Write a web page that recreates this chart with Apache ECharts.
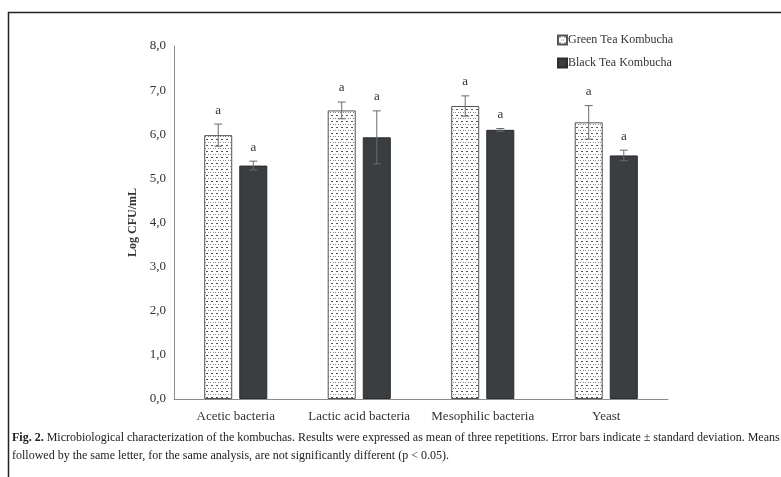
<!DOCTYPE html>
<html><head><meta charset="utf-8">
<script src="https://cdn.jsdelivr.net/npm/echarts@6/dist/echarts.min.js"></script>
<style>html,body{margin:0;padding:0;background:#fff}#c{width:781px;height:477px}</style>
</head><body><div id="c"></div>
<script>
const categories = ['Acetic bacteria', 'Lactic acid bacteria', 'Mesophilic bacteria', 'Yeast'];
const seriesNames = ['Green Tea Kombucha', 'Black Tea Kombucha'];
const greenMean = [5.98, 6.54, 6.64, 6.27];
const greenSD = [0.25, 0.19, 0.23, 0.38];
const blackMean = [5.29, 5.93, 6.10, 5.52];
const blackSD = [0.10, 0.60, 0.03, 0.12];
const greenLetters = ['a', 'a', 'a', 'a'];
const blackLetters = ['a', 'a', 'a', 'a'];
const yTicks = [0, 1, 2, 3, 4, 5, 6, 7, 8];

const serif = '"Liberation Serif", "DejaVu Serif", serif';

// dotted pattern for green bars
const pc = document.createElement('canvas');
pc.width = 5; pc.height = 6;
const px = pc.getContext('2d');
px.fillStyle = '#ffffff'; px.fillRect(0, 0, 5, 6);
px.fillStyle = '#555555';
px.fillRect(1, 1, 2, 1);
px.fillStyle = '#8a8a8a';
px.fillRect(3, 4, 1, 1);
px.fillRect(0, 4, 1, 1);
const dotPattern = { image: pc, repeat: 'repeat' };

const chart = echarts.init(document.getElementById('c'));

const BARW = 0.227, GAP = 0.057;
function errSeries(means, sds, letters, sign) {
  const data = means.map((m, i) => [i, m, sds[i], letters[i]]);
  return {
    type: 'custom', z: 5, silent: true,
    data: data,
    renderItem: function (params, api) {
      const i = api.value(0), m = api.value(1), sd = api.value(2);
      const band = api.size([1, 0])[0];
      const base = api.coord([i, m]);
      const x = base[0] + sign * band * (BARW + GAP) / 2;
      const top = api.coord([i, m + sd])[1];
      const bot = api.coord([i, m - sd])[1];
      const cap = 4;
      const st = { stroke: '#6b6b6b', lineWidth: 1 };
      return {
        type: 'group', children: [
          { type: 'line', shape: { x1: x, y1: top, x2: x, y2: bot }, style: st },
          { type: 'line', shape: { x1: x - cap, y1: top, x2: x + cap, y2: top }, style: st },
          { type: 'line', shape: { x1: x - cap, y1: bot, x2: x + cap, y2: bot }, style: st },
          { type: 'text', style: { x: x, y: top - 14, text: data[i][3], fill: '#333', font: '13px ' + serif, align: 'center', verticalAlign: 'middle' } }
        ]
      };
    }
  };
}

chart.setOption({
  animation: false,
  backgroundColor: '#fff',
  grid: { left: 174, right: 113, top: 46, bottom: 78 },
  legend: {
    data: seriesNames, orient: 'vertical', left: 552, top: 29,
    itemWidth: 9, itemHeight: 9, itemGap: 11,
    icon: 'rect',
    textStyle: { fontFamily: serif, fontSize: 12, color: '#333', padding: [0, 0, 0, -4] }
  },
  xAxis: {
    type: 'category', data: categories,
    axisLine: { lineStyle: { color: '#8c8c8c', width: 1 } },
    axisTick: { show: false },
    axisLabel: { fontFamily: serif, fontSize: 13, color: '#333', margin: 11, interval: 0 }
  },
  yAxis: {
    type: 'value', min: 0, max: 8, interval: 1,
    name: 'Log CFU/mL', nameLocation: 'middle', nameGap: 31,
    nameTextStyle: { fontFamily: serif, fontSize: 12, fontWeight: 'bold', color: '#333' },
    axisLine: { show: true, lineStyle: { color: '#8c8c8c', width: 1 } },
    axisTick: { show: false },
    splitLine: { show: false },
    axisLabel: {
      fontFamily: serif, fontSize: 13, color: '#333', margin: 8,
      formatter: v => yTicks.includes(v) ? v.toFixed(1).replace('.', ',') : ''
    }
  },
  series: [
    {
      name: seriesNames[0], type: 'bar', data: greenMean,
      barWidth: (BARW * 100) + '%', barGap: (GAP / BARW * 100) + '%',
      itemStyle: { color: dotPattern, borderColor: '#555', borderWidth: 1 }
    },
    {
      name: seriesNames[1], type: 'bar', data: blackMean,
      barWidth: (BARW * 100) + '%',
      itemStyle: { color: '#3b3e41', borderColor: '#2a2c2e', borderWidth: 1 }
    },
    errSeries(greenMean, greenSD, greenLetters, -1),
    errSeries(blackMean, blackSD, blackLetters, 1)
  ],
  graphic: [
    { type: 'polyline', shape: { points: [[8.5, 477], [8.5, 12.5], [781, 12.5]] }, style: { stroke: '#222', lineWidth: 1.5, fill: null } },
    {
      type: 'text', left: 12, top: 429,
      style: {
        text: '{b|Fig. 2.} Microbiological characterization of the kombuchas. Results were expressed as mean of three repetitions. Error bars indicate ± standard deviation. Means\nfollowed by the same letter, for the same analysis, are not significantly different (p < 0.05).',
        font: '12px ' + serif, fill: '#222', lineHeight: 18,
        rich: { b: { fontWeight: 'bold', fontFamily: serif, fontSize: 12, fill: '#222' } }
      }
    }
  ]
});
</script></body></html>
